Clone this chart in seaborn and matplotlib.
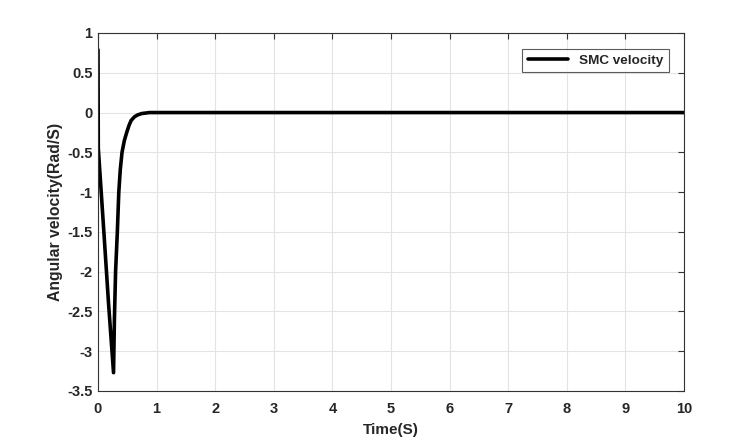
import matplotlib
matplotlib.use("Agg")
import matplotlib.pyplot as plt
import seaborn as sns
import pandas as pd

# SMC angular velocity response
time_s = [0.0, 0.005, 0.10, 0.18, 0.265, 0.28, 0.30, 0.33, 0.355, 0.38, 0.41, 0.45,
          0.49, 0.53, 0.565, 0.62, 0.675, 0.75, 0.88, 1.0, 2.0, 4.0, 6.0, 8.0, 10.0]
velocity = [0.79, -0.45, -1.5, -2.4, -3.27, -2.6, -2.0, -1.5, -1.0, -0.72, -0.5, -0.35,
            -0.25, -0.16, -0.1, -0.055, -0.03, -0.012, 0.0, 0.0, 0.0, 0.0, 0.0, 0.0, 0.0]
x_ticks = [0, 1, 2, 3, 4, 5, 6, 7, 8, 9, 10]
y_ticks = [1, 0.5, 0, -0.5, -1, -1.5, -2, -2.5, -3, -3.5]

df = pd.DataFrame({"Time": time_s, "Velocity": velocity, "series": "SMC velocity"})

sns.set_style("white")
plt.rcParams["font.family"] = ["Liberation Sans", "DejaVu Sans"]
plt.rcParams["font.weight"] = "bold"

fig = plt.figure(figsize=(7.55, 4.4), dpi=100)
ax = fig.add_axes([0.1298, 0.1114, 0.7762, 0.8136])

sns.lineplot(data=df, x="Time", y="Velocity", hue="series", palette=["black"],
             linewidth=2.6, ax=ax)

ax.set_xlim(0, 10)
ax.set_ylim(-3.5, 1)
ax.set_xticks(x_ticks)
ax.set_yticks(y_ticks)
ax.set_xticklabels([f"{t:g}" for t in x_ticks], fontsize=10.5, fontweight="bold")
ax.set_yticklabels([f"{t:g}" for t in y_ticks], fontsize=10.5, fontweight="bold")
ax.grid(True, color="#e3e3e3", linewidth=0.8)
ax.tick_params(direction="in", top=True, right=True, length=4, width=0.8,
               color="#333333")
ax.tick_params(axis="x", pad=8)
ax.tick_params(axis="y", pad=4)
for sp in ax.spines.values():
    sp.set_color("#333333")
    sp.set_linewidth(0.8)

ax.set_xlabel("Time(S)", fontsize=11, fontweight="bold", labelpad=5)
ax.set_ylabel("Angular velocity(Rad/S)", fontsize=11.3, fontweight="bold", labelpad=3)

leg = ax.legend(loc="upper right", bbox_to_anchor=(0.985, 0.975),
                prop={"weight": "bold", "size": 9.7}, frameon=True, fancybox=False,
                handlelength=3.0, borderpad=0.4, edgecolor="#333333")
leg.get_frame().set_linewidth(0.8)

fig.savefig("out.png", dpi=100)
